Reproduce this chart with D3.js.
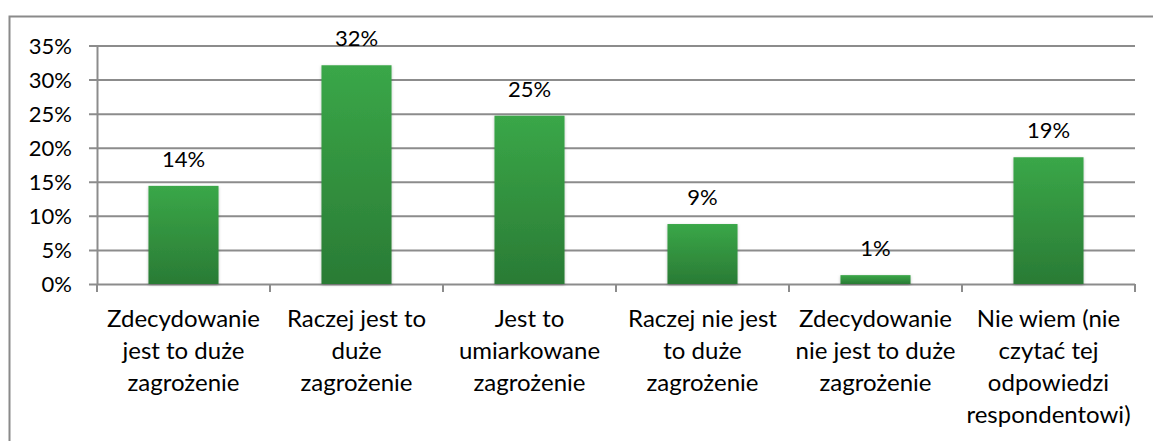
<!DOCTYPE html>
<html><head><meta charset="utf-8">
<script src="https://cdnjs.cloudflare.com/ajax/libs/d3/7.8.5/d3.min.js"></script>
<style>body{margin:0;background:#fff}svg{display:block}text{font-family:Lato,"Open Sans",sans-serif;fill:#000}</style>
</head><body><svg id="c" width="1153" height="441"></svg>
<script>
const categories = [
  ["Zdecydowanie","jest to duże","zagrożenie"],
  ["Raczej jest to","duże","zagrożenie"],
  ["Jest to","umiarkowane","zagrożenie"],
  ["Raczej nie jest","to duże","zagrożenie"],
  ["Zdecydowanie","nie jest to duże","zagrożenie"],
  ["Nie wiem (nie","czytać tej","odpowiedzi","respondentowi)"]
];
const values = [14.4, 32.1, 24.7, 8.8, 1.3, 18.6];
const valueLabels = ["14%","32%","25%","9%","1%","19%"];
const yTicks = [0,5,10,15,20,25,30,35];

(function(){
const svg = d3.select("#c");
const pl = 97, pr = 1135, pt = 45.5, pb = 284;
const x = d3.scaleBand().domain(d3.range(categories.length)).range([pl,pr]).paddingInner(0.595).paddingOuter(0.2975);
const xb = d3.scaleBand().domain(d3.range(categories.length)).range([pl,pr]);
const y = d3.scaleLinear().domain([0,35]).range([pb,pt]);

// frame
svg.append("rect").attr("x",9.5).attr("y",16.5).attr("width",1160).attr("height",440)
  .attr("fill","none").attr("stroke","#8a8a8a").attr("stroke-width",2);

const defs = svg.append("defs");
const g = defs.append("linearGradient").attr("id","bg").attr("x1",0).attr("y1",0).attr("x2",0).attr("y2",1);
g.append("stop").attr("offset","0%").attr("stop-color","#3aa748");
g.append("stop").attr("offset","100%").attr("stop-color","#2a7b35");
const f = defs.append("filter").attr("id","sh").attr("x","-20%").attr("y","-20%").attr("width","140%").attr("height","140%");
f.append("feDropShadow").attr("dx",0).attr("dy",1).attr("stdDeviation",1.5).attr("flood-color","#000").attr("flood-opacity",0.25);

// gridlines + y axis
const ya = d3.axisLeft(y).tickValues(yTicks).tickFormat(d=>d+"%").tickSize(-(pr-pl)).tickSizeOuter(0);
const yg = svg.append("g").attr("transform",`translate(${pl},0)`).call(ya);
yg.select(".domain").attr("stroke","#8c8c8c").attr("stroke-width",2);
yg.selectAll(".tick line").attr("stroke","#8c8c8c").attr("stroke-width",2).attr("x1",-8);
yg.selectAll(".tick text").attr("font-size",22).attr("x",-25).attr("dy","0.36em").attr("font-family","Lato,'Open Sans',sans-serif").attr("fill","#000");

// x axis ticks
const xt = d3.range(categories.length+1).map(i=> i<categories.length ? xb(i) : pr);
svg.append("g").selectAll("line").data(xt).join("line")
  .attr("x1",d=>d).attr("x2",d=>d).attr("y1",pb).attr("y2",pb+8)
  .attr("stroke","#8c8c8c").attr("stroke-width",2);

// bars
svg.append("g").selectAll("rect").data(values).join("rect")
  .attr("x",(d,i)=>x(i)).attr("width",x.bandwidth())
  .attr("y",d=>y(d)).attr("height",d=>pb-y(d))
  .attr("fill","url(#bg)").attr("filter","url(#sh)");

// value labels
svg.append("g").selectAll("text").data(values).join("text")
  .attr("x",(d,i)=>x(i)+x.bandwidth()/2).attr("y",d=>y(d)-19)
  .attr("text-anchor","middle").attr("font-size",22).text((d,i)=>valueLabels[i]);

// category labels
const cl = svg.append("g").selectAll("text").data(categories).join("text")
  .attr("x",(d,i)=>xb(i)+xb.bandwidth()/2).attr("y",327)
  .attr("text-anchor","middle").attr("font-size",24);
cl.selectAll("tspan").data(d=>d).join("tspan")
  .attr("x",function(){return this.parentNode.getAttribute("x");})
  .attr("dy",(d,i)=>i===0?0:32).text(d=>d);
})();
</script></body></html>
